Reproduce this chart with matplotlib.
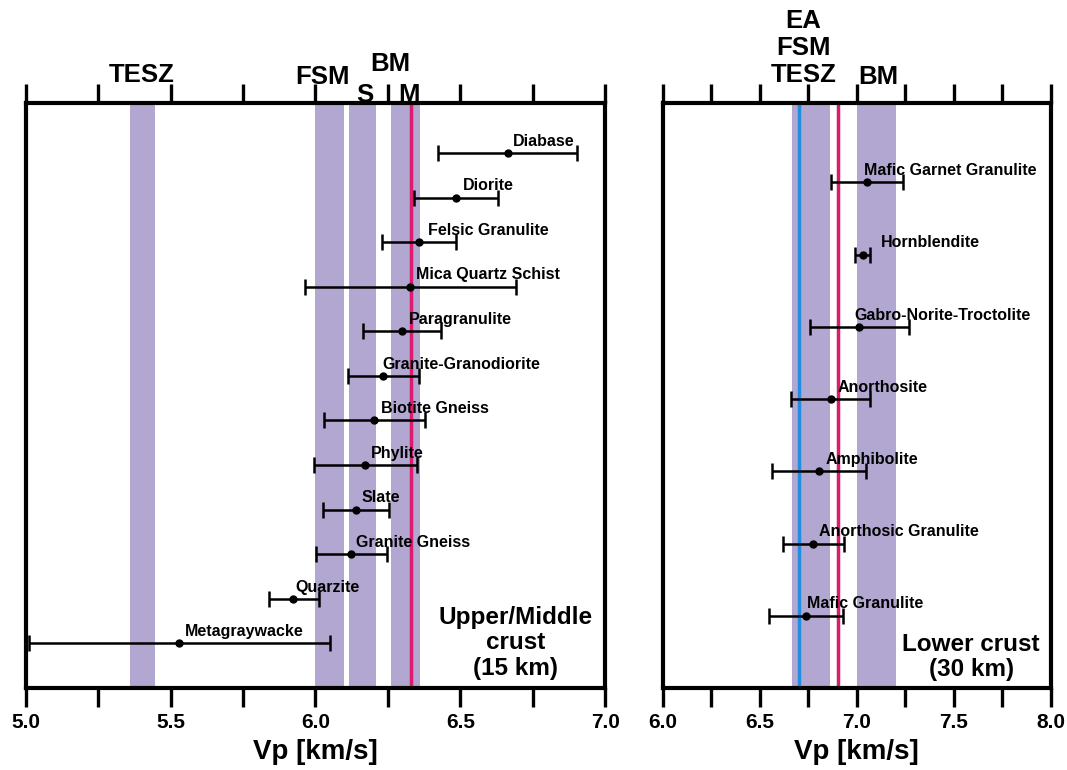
import matplotlib
matplotlib.use("Agg")
import matplotlib.pyplot as plt
from matplotlib.ticker import MultipleLocator

plt.rcParams['font.family'] = ['Liberation Sans', 'DejaVu Sans']
plt.rcParams['font.weight'] = 'bold'

# ---------------- Data: Upper/Middle crust (15 km) ----------------
upper_rocks = ["Diabase", "Diorite", "Felsic Granulite", "Mica Quartz Schist",
               "Paragranulite", "Granite-Granodiorite", "Biotite Gneiss", "Phylite",
               "Slate", "Granite Gneiss", "Quarzite", "Metagraywacke"]
upper_vp = [6.664, 6.486, 6.357, 6.327, 6.299, 6.234, 6.202, 6.172, 6.139, 6.124, 5.924, 5.530]
upper_lo = [6.422, 6.339, 6.229, 5.964, 6.164, 6.111, 6.029, 5.994, 6.027, 6.001, 5.841, 5.011]
upper_hi = [6.904, 6.631, 6.486, 6.693, 6.434, 6.357, 6.377, 6.352, 6.254, 6.248, 6.012, 6.050]
upper_label_x = [6.682, 6.510, 6.390, 6.347, 6.323, 6.232, 6.226, 6.193, 6.159, 6.141, 5.930, 5.548]

upper_bands = [(5.36, 5.445), (6.00, 6.10), (6.115, 6.21), (6.26, 6.36)]
upper_region_names = ["TESZ", "FSM", "BM", "S", "M"]
upper_region_x = [5.40, 6.026, 6.257, 6.172, 6.322]
upper_magenta = 6.33

# ---------------- Data: Lower crust (30 km) ----------------
lower_rocks = ["Mafic Garnet Granulite", "Hornblendite", "Gabro-Norite-Troctolite",
               "Anorthosite", "Amphibolite", "Anorthosic Granulite", "Mafic Granulite"]
lower_vp = [7.053, 7.031, 7.014, 6.867, 6.806, 6.775, 6.740]
lower_lo = [6.867, 6.993, 6.761, 6.662, 6.565, 6.620, 6.549]
lower_hi = [7.241, 7.071, 7.268, 7.070, 7.048, 6.933, 6.929]
lower_label_x = [7.038, 7.124, 6.988, 6.900, 6.838, 6.804, 6.742]

lower_bands = [(6.665, 6.86), (7.00, 7.205)]
lower_region_names = ["EA\nFSM\nTESZ", "BM"]
lower_region_x = [6.725, 7.11]
lower_blue = 6.70
lower_magenta = 6.905

BAND = '#b1a7d1'
MAGENTA = '#dc1a6e'
BLUE = '#1e8ee0'

fig = plt.figure(figsize=(10.67, 7.70), dpi=100)
ax1 = fig.add_axes([0.0241, 0.1065, 0.543, 0.7597])
ax2 = fig.add_axes([0.6211, 0.1065, 0.3636, 0.7597])

AX_TOP_PX, AX_BOT_PX = 103, 688


def frac_from_px(py):
    return (AX_BOT_PX - py) / (AX_BOT_PX - AX_TOP_PX)


def style_axis(ax, xmin, xmax):
    ax.set_xlim(xmin, xmax)
    ax.set_yticks([])
    for s in ax.spines.values():
        s.set_linewidth(3)
        s.set_color('black')
    ax.xaxis.set_major_locator(MultipleLocator(0.5))
    ax.xaxis.set_minor_locator(MultipleLocator(0.25))
    ax.tick_params(axis='x', which='both', direction='out', length=14, width=2.4,
                   top=True, bottom=True, labeltop=False, labelbottom=True,
                   color='black', pad=4)
    ax.tick_params(axis='x', which='major', labelsize=15)
    ax.xaxis.set_major_formatter(plt.FuncFormatter(lambda v, p: f"{v:.1f}"))
    for lbl in ax.get_xticklabels():
        lbl.set_fontweight('bold')
    ax.set_xlabel("Vp [km/s]", fontsize=20, fontweight='bold', labelpad=5)


def draw_rocks(ax, names, vp, lo, hi, label_x):
    n = len(names)
    ys = list(range(n, 0, -1))
    for name, v, l, h, lx, y in zip(names, vp, lo, hi, label_x, ys):
        ax.errorbar([v], [y], xerr=[[v - l], [h - v]], fmt='o', color='black',
                    ecolor='black', elinewidth=1.8, capsize=6, capthick=1.8,
                    markersize=5, zorder=5)
        ax.annotate(name, xy=(lx, y), xytext=(0, 8.5), textcoords='offset points',
                    ha='left', va='center', fontsize=11.5, fontweight='bold', zorder=6)


# Left panel
style_axis(ax1, 5.0, 7.0)
ax1.set_ylim(0, 13.12)
for a, b in upper_bands:
    ax1.axvspan(a, b, color=BAND, lw=0, zorder=1)
ax1.axvline(upper_magenta, color=MAGENTA, lw=2.5, zorder=2)
draw_rocks(ax1, upper_rocks, upper_vp, upper_lo, upper_hi, upper_label_x)
for name, x, ty in zip(upper_region_names, upper_region_x, [75, 77, 64, 95, 95]):
    ax1.text(x, frac_from_px(ty), name, transform=ax1.get_xaxis_transform(),
             ha='center', va='center', fontsize=18.5, fontweight='bold')
ax1.text(6.69, frac_from_px(643), "Upper/Middle\ncrust\n(15 km)",
         transform=ax1.get_xaxis_transform(),
         ha='center', va='center', fontsize=17.5, fontweight='bold', linespacing=1.12)

# Right panel
style_axis(ax2, 6.0, 8.0)
ax2.set_ylim(0, 8.1)
for a, b in lower_bands:
    ax2.axvspan(a, b, color=BAND, lw=0, zorder=1)
ax2.axvline(lower_blue, color=BLUE, lw=2.5, zorder=2)
ax2.axvline(lower_magenta, color=MAGENTA, lw=2.5, zorder=2)
draw_rocks(ax2, lower_rocks, lower_vp, lower_lo, lower_hi, lower_label_x)
ax2.text(lower_region_x[0], frac_from_px(48), lower_region_names[0],
         transform=ax2.get_xaxis_transform(), ha='center', va='center',
         fontsize=18.5, fontweight='bold', linespacing=1.15)
ax2.text(lower_region_x[1], frac_from_px(77), lower_region_names[1],
         transform=ax2.get_xaxis_transform(), ha='center', va='center',
         fontsize=18.5, fontweight='bold')
ax2.text(7.59, frac_from_px(657), "Lower crust\n(30 km)", transform=ax2.get_xaxis_transform(),
         ha='center', va='center', fontsize=17.5, fontweight='bold', linespacing=1.1)

fig.savefig("out.png", dpi=100)
